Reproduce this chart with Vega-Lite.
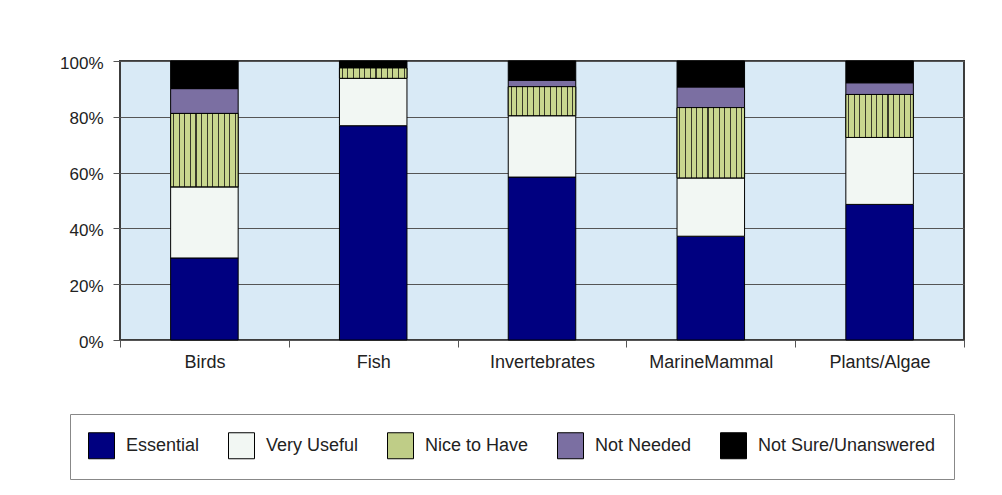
{
  "$schema": "https://vega.github.io/schema/vega-lite/v6.json",
  "width": 844,
  "height": 279,
  "autosize": {"type": "none"},
  "padding": {"left": 120, "top": 61, "right": 38, "bottom": 155},
  "background": "white",
  "config": {
    "font": "Liberation Sans",
    "view": {"fill": "#D9EAF6", "stroke": "#3c3c3c", "strokeWidth": 2},
    "axis": {"labelColor": "#222222", "tickColor": "#555555", "domain": false}
  },
  "data": {
    "values": [
      {"cat": "Birds", "level": "Essential", "pct": 29.4},
      {"cat": "Birds", "level": "Very Useful", "pct": 25.5},
      {"cat": "Birds", "level": "Nice to Have", "pct": 26.3},
      {"cat": "Birds", "level": "Not Needed", "pct": 8.9},
      {"cat": "Birds", "level": "Not Sure/Unanswered", "pct": 9.9},
      {"cat": "Fish", "level": "Essential", "pct": 76.8},
      {"cat": "Fish", "level": "Very Useful", "pct": 17.0},
      {"cat": "Fish", "level": "Nice to Have", "pct": 3.7},
      {"cat": "Fish", "level": "Not Needed", "pct": 0},
      {"cat": "Fish", "level": "Not Sure/Unanswered", "pct": 2.5},
      {"cat": "Invertebrates", "level": "Essential", "pct": 58.4},
      {"cat": "Invertebrates", "level": "Very Useful", "pct": 22.0},
      {"cat": "Invertebrates", "level": "Nice to Have", "pct": 10.4},
      {"cat": "Invertebrates", "level": "Not Needed", "pct": 2.3},
      {"cat": "Invertebrates", "level": "Not Sure/Unanswered", "pct": 6.9},
      {"cat": "MarineMammal", "level": "Essential", "pct": 37.2},
      {"cat": "MarineMammal", "level": "Very Useful", "pct": 20.9},
      {"cat": "MarineMammal", "level": "Nice to Have", "pct": 25.2},
      {"cat": "MarineMammal", "level": "Not Needed", "pct": 7.4},
      {"cat": "MarineMammal", "level": "Not Sure/Unanswered", "pct": 9.3},
      {"cat": "Plants/Algae", "level": "Essential", "pct": 48.6},
      {"cat": "Plants/Algae", "level": "Very Useful", "pct": 24.0},
      {"cat": "Plants/Algae", "level": "Nice to Have", "pct": 15.4},
      {"cat": "Plants/Algae", "level": "Not Needed", "pct": 4.2},
      {"cat": "Plants/Algae", "level": "Not Sure/Unanswered", "pct": 7.8}
    ]
  },
  "transform": [
    {"calculate": "indexof(['Essential','Very Useful','Nice to Have','Not Needed','Not Sure/Unanswered'], datum.level)", "as": "ord"},
    {"stack": "pct", "groupby": ["cat"], "sort": [{"field": "ord", "order": "ascending"}], "offset": "normalize", "as": ["y0", "y1"]}
  ],
  "encoding": {
    "x": {
      "field": "cat", "type": "nominal", "sort": null, "title": null,
      "scale": {"paddingInner": 0, "paddingOuter": 0},
      "axis": {"labelAngle": 0, "labelFontSize": 18, "tickBand": "extent", "tickSize": 7, "labelPadding": 6, "grid": false}
    },
    "y": {
      "field": "y0", "type": "quantitative", "title": null,
      "scale": {"domain": [0, 1], "nice": false},
      "axis": {"format": ".0%", "values": [0, 0.2, 0.4, 0.6, 0.8, 1], "labelFontSize": 17, "tickSize": 7, "labelPadding": 10, "labelOffset": 2, "grid": true, "gridColor": "#555555", "gridWidth": 1, "gridOpacity": 1}
    },
    "y2": {"field": "y1"}
  },
  "layer": [
    {
      "mark": {"type": "bar", "width": {"band": 0.4}, "stroke": "#000000", "strokeWidth": 1},
      "encoding": {
        "color": {
          "field": "level", "type": "nominal",
          "sort": ["Essential", "Very Useful", "Nice to Have", "Not Needed", "Not Sure/Unanswered"],
          "scale": {
            "domain": ["Essential", "Very Useful", "Nice to Have", "Not Needed", "Not Sure/Unanswered"],
            "range": ["#000080", "#F2F7F3", "#BFCD87", "#7B6FA2", "#000000"]
          },
          "legend": {
            "title": null,
            "orient": "none",
            "direction": "horizontal",
            "legendX": -50,
            "legendY": 353,
            "padding": 18,
            "columnPadding": 26,
            "strokeColor": "#888888",
            "symbolType": "square",
            "symbolSize": 676,
            "symbolStrokeColor": "#000000",
            "symbolStrokeWidth": 1,
            "symbolOpacity": 1,
            "labelFontSize": 18,
            "labelColor": "#222222",
            "labelOffset": 11,
            "labelLimit": 300
          }
        }
      }
    },
    {
      "transform": [{"filter": "datum.level === 'Nice to Have'"}],
      "mark": {
        "type": "bar", "width": {"band": 0.4}, "stroke": "#000000", "strokeWidth": 1,
        "fill": {
          "gradient": "linear", "x1": 0, "y1": 0, "x2": 1, "y2": 0,
          "stops": [
            {"offset": 0, "color": "#C9D78F"},
            {"offset": 0.0337, "color": "#C9D78F"}, {"offset": 0.0337, "color": "#3A3A2A"}, {"offset": 0.0497, "color": "#3A3A2A"}, {"offset": 0.0497, "color": "#C9D78F"},
            {"offset": 0.117, "color": "#C9D78F"}, {"offset": 0.117, "color": "#3A3A2A"}, {"offset": 0.133, "color": "#3A3A2A"}, {"offset": 0.133, "color": "#C9D78F"},
            {"offset": 0.2003, "color": "#C9D78F"}, {"offset": 0.2003, "color": "#3A3A2A"}, {"offset": 0.2163, "color": "#3A3A2A"}, {"offset": 0.2163, "color": "#C9D78F"},
            {"offset": 0.2837, "color": "#C9D78F"}, {"offset": 0.2837, "color": "#3A3A2A"}, {"offset": 0.2997, "color": "#3A3A2A"}, {"offset": 0.2997, "color": "#C9D78F"},
            {"offset": 0.367, "color": "#C9D78F"}, {"offset": 0.367, "color": "#3A3A2A"}, {"offset": 0.383, "color": "#3A3A2A"}, {"offset": 0.383, "color": "#C9D78F"},
            {"offset": 0.4503, "color": "#C9D78F"}, {"offset": 0.4503, "color": "#3A3A2A"}, {"offset": 0.4663, "color": "#3A3A2A"}, {"offset": 0.4663, "color": "#C9D78F"},
            {"offset": 0.5337, "color": "#C9D78F"}, {"offset": 0.5337, "color": "#3A3A2A"}, {"offset": 0.5497, "color": "#3A3A2A"}, {"offset": 0.5497, "color": "#C9D78F"},
            {"offset": 0.617, "color": "#C9D78F"}, {"offset": 0.617, "color": "#3A3A2A"}, {"offset": 0.633, "color": "#3A3A2A"}, {"offset": 0.633, "color": "#C9D78F"},
            {"offset": 0.7003, "color": "#C9D78F"}, {"offset": 0.7003, "color": "#3A3A2A"}, {"offset": 0.7163, "color": "#3A3A2A"}, {"offset": 0.7163, "color": "#C9D78F"},
            {"offset": 0.7837, "color": "#C9D78F"}, {"offset": 0.7837, "color": "#3A3A2A"}, {"offset": 0.7997, "color": "#3A3A2A"}, {"offset": 0.7997, "color": "#C9D78F"},
            {"offset": 0.867, "color": "#C9D78F"}, {"offset": 0.867, "color": "#3A3A2A"}, {"offset": 0.883, "color": "#3A3A2A"}, {"offset": 0.883, "color": "#C9D78F"},
            {"offset": 0.9503, "color": "#C9D78F"}, {"offset": 0.9503, "color": "#3A3A2A"}, {"offset": 0.9663, "color": "#3A3A2A"}, {"offset": 0.9663, "color": "#C9D78F"},
            {"offset": 1, "color": "#C9D78F"}
          ]
        }
      },
      "encoding": {}
    }
  ]
}
